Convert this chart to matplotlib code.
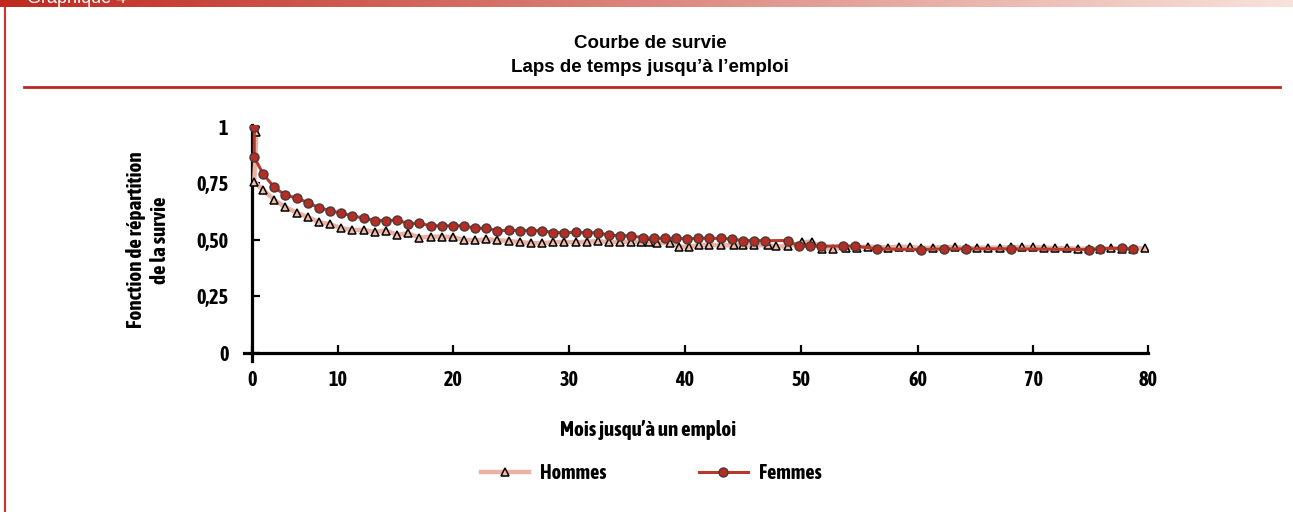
import numpy as np
import matplotlib
matplotlib.use('Agg')
import matplotlib.pyplot as plt
from matplotlib.lines import Line2D
from matplotlib import font_manager as fm

# survival values (months, share still without a job)
hommes_mois = [0.4, 0.2, 1, 2, 3, 4, 5, 6, 7, 8, 9, 10, 11, 12, 13, 14, 15, 16, 17, 18, 19,
               20, 21, 22, 23, 24, 25, 26, 27, 28, 29, 30, 31, 32, 33, 34, 34.9, 35.6, 36.3,
               37.5, 38.3, 39.2, 40.1, 41, 42, 43.2, 44, 45, 46.2, 47, 48, 49.3, 50.2, 51.1,
               52.1, 53.2, 54.2, 55.2, 57, 58, 59, 60, 61, 63, 64, 65, 66, 67, 68, 69, 70,
               71, 72, 73, 74, 75, 76, 77, 78, 79, 80]
hommes = [0.975, 0.757, 0.720, 0.676, 0.644, 0.620, 0.600, 0.578, 0.569, 0.551, 0.544,
          0.544, 0.535, 0.541, 0.522, 0.529, 0.510, 0.514, 0.514, 0.512, 0.500,
          0.498, 0.502, 0.499, 0.495, 0.490, 0.486, 0.485, 0.490, 0.491, 0.489, 0.492,
          0.494, 0.490, 0.491, 0.491, 0.492, 0.490, 0.486, 0.488, 0.470, 0.469, 0.478,
          0.478, 0.476, 0.476, 0.476, 0.476, 0.476, 0.471, 0.471, 0.490, 0.492, 0.461,
          0.461, 0.464, 0.466, 0.470, 0.466, 0.470, 0.469, 0.463, 0.466, 0.469, 0.462,
          0.465, 0.465, 0.465, 0.467, 0.469, 0.467, 0.466, 0.463, 0.463, 0.461, 0.461,
          0.460, 0.462, 0.461, 0.461, 0.463]

femmes_mois = [0.2, 0.2, 1, 2, 3, 4, 5, 6, 7, 8, 9, 10, 11, 12, 13, 14, 15, 16, 17, 18, 19,
               20, 21, 22, 23, 24, 25, 26, 27, 28, 29, 30, 31, 32, 33, 34, 35, 36, 37, 38,
               39, 40, 41, 42, 43, 44, 45, 46, 48, 49, 50, 51, 53, 54, 56, 60, 62, 64, 68,
               75, 76, 78, 79]
femmes = [1.0, 0.865, 0.790, 0.732, 0.697, 0.685, 0.664, 0.642, 0.629, 0.618, 0.606,
          0.596, 0.585, 0.585, 0.587, 0.572, 0.573, 0.562, 0.562, 0.562, 0.562,
          0.551, 0.551, 0.540, 0.542, 0.541, 0.541, 0.541, 0.532, 0.532, 0.533, 0.531,
          0.532, 0.520, 0.519, 0.517, 0.510, 0.507, 0.507, 0.507, 0.504, 0.507, 0.507,
          0.506, 0.504, 0.496, 0.497, 0.496, 0.497, 0.472, 0.472, 0.472, 0.473, 0.473,
          0.460, 0.457, 0.460, 0.460, 0.460, 0.457, 0.461, 0.463, 0.458]

x_labels = ['0', '10', '20', '30', '40', '50', '60', '70', '80']
y_ticks = [0, 0.25, 0.5, 0.75, 1]
y_labels = ['0', '0,25', '0,50', '0,75', '1']

# tick marks sit where the original drawing put them
x_tick_pos = [0, 7.7, 18.05, 28.45, 38.8, 49.2, 59.65, 70.0, 80.3]


def weight_num(w):
    if isinstance(w, str):
        return {'bold': 700, 'heavy': 800, 'black': 900, 'semibold': 600,
                'demibold': 600, 'extra bold': 800}.get(w.lower(), 400)
    return w


# look for a bold condensed sans face, else fall back on Liberation Sans
narrow_name, narrow_stretch, fs = 'Liberation Sans', 'normal', 11.5
cands = []
for f in fm.fontManager.ttflist:
    cond = ('Narrow' in f.name or 'Condensed' in f.name or
            f.stretch in ('condensed', 'semi-condensed', 'extra-condensed'))
    if cond and weight_num(f.weight) >= 600 and f.style == 'normal':
        cands.append(f)
if cands:
    cands.sort(key=lambda f: (abs(weight_num(f.weight) - 700), f.name))
    narrow_name, narrow_stretch, fs = cands[0].name, cands[0].stretch, 14.5

narrow = [narrow_name, 'DejaVu Sans']
wide = ['Liberation Sans', 'DejaVu Sans']
nfont = dict(family=narrow, stretch=narrow_stretch, weight='bold', size=fs)
lfont = dict(nfont, size=fs * 1.04)

W, H = 1293, 512
fig = plt.figure(figsize=(W / 100, H / 100), dpi=100)

# gradient band at the top
band = fig.add_axes([0, 1 - 7 / H, 1, 7 / H])
c0 = np.array([0.75, 0.16, 0.12])
c1 = np.array([0.97, 0.89, 0.86])
t = np.linspace(0, 1, 256)[None, :, None]
band.imshow(c0 + (c1 - c0) * t, aspect='auto', extent=(0, 1, 0, 1))
band.set_axis_off()
fig.text(27 / W, 1 - 3 / H, 'Graphique 4', color='white', fontsize=13,
         family=wide, va='baseline', ha='left')

# left frame line and red rule under the title
fig.add_artist(Line2D([5 / W, 5 / W], [0, 1 - 7 / H], color='#c8372d', lw=1.5))
fig.add_artist(Line2D([24 / W, 1280 / W], [1 - 86.5 / H] * 2, color='#c0281e', lw=2))

fig.text(0.503, 1 - 44 / H, 'Courbe de survie', ha='center', va='center',
         fontsize=13.5, fontweight='bold', family=wide)
fig.text(0.503, 1 - 67 / H, 'Laps de temps jusqu’à l’emploi', ha='center', va='center',
         fontsize=13.5, fontweight='bold', family=wide)

ax = fig.add_axes([244.2 / W, 151 / H, 903.8 / W, 236 / H])
ax.plot(hommes_mois, hommes, color='#ebb2a2', lw=3.2, marker='^', ms=5.5,
        mfc='#f2bba8', mec='black', mew=1.1, label='Hommes', zorder=3)
ax.plot(femmes_mois, femmes, color='#b8392c', lw=2.2, marker='o', ms=6.5,
        mfc='#b52d24', mec='#4a3a38', mew=1.0, label='Femmes', zorder=4)

ax.set_xlim(-0.7, 80.3)
ax.set_ylim(-0.035, 1.007)
for s in ['top', 'right']:
    ax.spines[s].set_visible(False)
ax.spines['left'].set_position(('data', 0))
ax.spines['bottom'].set_position(('data', 0))
for s in ['left', 'bottom']:
    ax.spines[s].set_linewidth(2.3)
ax.set_xticks(x_tick_pos)
ax.set_xticklabels(x_labels, fontdict=nfont)
ax.set_yticks(y_ticks)
ax.set_yticklabels(y_labels, fontdict=nfont)
ax.tick_params(axis='x', direction='in', length=6, width=1.6, pad=12)
ax.tick_params(axis='y', direction='in', length=6, width=1.6, pad=17)

fig.text(648 / W, 1 - 430 / H, 'Mois jusqu’à un emploi', ha='center', va='center',
         **lfont)
fig.text(148 / W, 1 - 240 / H, 'Fonction de répartition\nde la survie', rotation=90,
         ha='center', va='center', multialignment='center', linespacing=1.2,
         **lfont)

leg = fig.legend(loc='center', bbox_to_anchor=(651 / W, 1 - 473 / H), ncol=2,
                 frameon=False, handlelength=2.4, handletextpad=0.55, columnspacing=4.6,
                 prop=fm.FontProperties(**nfont))

fig.savefig('out.png', dpi=100)
